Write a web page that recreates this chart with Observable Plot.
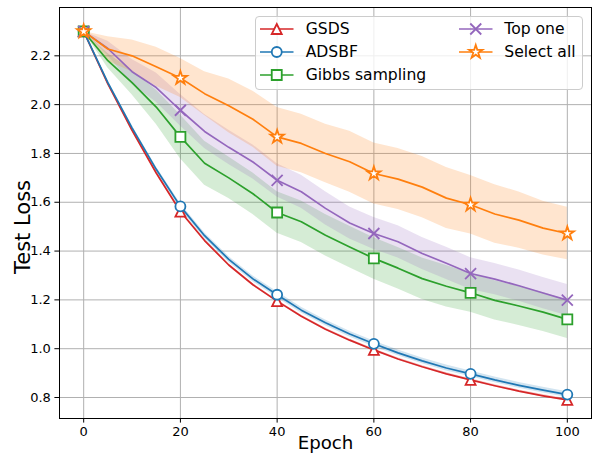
<!DOCTYPE html>
<html><head><meta charset="utf-8">
<script src="https://cdn.jsdelivr.net/npm/d3@7"></script>
<script src="https://cdn.jsdelivr.net/npm/@observablehq/plot@0.6"></script>
<style>
html,body{margin:0;padding:0;background:#fff;}
#wrap{position:relative;width:600px;height:456px;font-family:"DejaVu Sans",sans-serif;}
#legend{position:absolute;left:255px;top:16px;width:328px;height:74px;box-sizing:border-box;border:1px solid #cccccc;border-radius:4px;background:rgba(255,255,255,0.8);}
.lsym{position:absolute;}
.ltxt{position:absolute;font-size:15.6px;color:#000;white-space:nowrap;transform:translateY(-50%);line-height:1.2;}
</style></head><body><div id="wrap"></div>
<script>
// ---- data ----
const epochs = [0,5,10,15,20,25,30,35,40,45,50,55,60,65,70,75,80,85,90,95,100];
const names = ["GSDS","ADSBF","Gibbs sampling","Top one","Select all"];
const colors = ["#d62728","#1f77b4","#2ca02c","#9467bd","#ff7f0e"];
const gsds      = [2.30,2.085,1.895,1.72,1.562,1.443,1.343,1.262,1.195,1.133,1.08,1.035,0.995,0.958,0.926,0.897,0.872,0.848,0.826,0.807,0.79];
const adsbf     = [2.30,2.09,1.905,1.735,1.583,1.463,1.366,1.286,1.221,1.158,1.106,1.06,1.02,0.983,0.95,0.921,0.897,0.872,0.85,0.83,0.812];
const gibbs     = [2.30,2.18,2.09,1.99,1.868,1.76,1.70,1.635,1.558,1.52,1.465,1.417,1.37,1.33,1.287,1.256,1.229,1.198,1.175,1.15,1.12];
const topOne    = [2.30,2.23,2.135,2.07,1.977,1.89,1.825,1.765,1.69,1.643,1.575,1.515,1.472,1.438,1.39,1.35,1.308,1.285,1.258,1.228,1.199];
const selectAll = [2.30,2.228,2.20,2.155,2.109,2.045,1.995,1.94,1.868,1.841,1.80,1.766,1.718,1.695,1.662,1.617,1.59,1.552,1.527,1.494,1.472];
const gsdsStd      = [0,0.004,0.005,0.005,0.005,0.005,0.005,0.005,0.005,0.005,0.005,0.005,0.005,0.005,0.005,0.005,0.005,0.005,0.005,0.005,0.005];
const adsbfStd     = [0,0.008,0.01,0.011,0.012,0.012,0.012,0.012,0.012,0.012,0.012,0.012,0.012,0.012,0.012,0.012,0.012,0.012,0.012,0.012,0.012];
const gibbsStd     = [0,0.03,0.05,0.07,0.09,0.09,0.085,0.085,0.085,0.085,0.085,0.085,0.085,0.085,0.085,0.085,0.08,0.08,0.08,0.08,0.078];
const topOneStd    = [0,0.03,0.05,0.06,0.065,0.07,0.07,0.07,0.068,0.068,0.068,0.066,0.066,0.066,0.066,0.066,0.065,0.064,0.064,0.064,0.064];
const selectAllStd = [0,0.05,0.065,0.08,0.08,0.09,0.11,0.115,0.12,0.12,0.12,0.125,0.125,0.125,0.125,0.125,0.12,0.12,0.115,0.11,0.108];
const xTicks = [0,20,40,60,80,100];
const yTicks = [0.8,1.0,1.2,1.4,1.6,1.8,2.0,2.2];
const markerStep = 20;

// ---- symbols (matplotlib-like) ----
const rOf = s => Math.sqrt(s/Math.PI);
const mplTriangle = {draw(c,s){const r=rOf(s);c.moveTo(0,-r);c.lineTo(r,r);c.lineTo(-r,r);c.closePath();}};
const mplSquare = {draw(c,s){const r=rOf(s);c.moveTo(-r,-r);c.lineTo(r,-r);c.lineTo(r,r);c.lineTo(-r,r);c.closePath();}};
const mplX = {draw(c,s){const r=rOf(s);c.moveTo(-r,-r);c.lineTo(r,r);c.moveTo(-r,r);c.lineTo(r,-r);}};
const mplStar = {draw(c,s){const R=rOf(s),ri=R*0.381966;for(let k=0;k<10;k++){const a=-Math.PI/2+k*Math.PI/5,rr=k%2?ri:R;const x=rr*Math.cos(a),y=rr*Math.sin(a);k?c.lineTo(x,y):c.moveTo(x,y);}c.closePath();}};
const symbols = [mplTriangle, d3.symbolCircle, mplSquare, mplX, mplStar];
const symR = [5,5,5,5.5,7];
const symFill = ["white","white","white","none","white"];

const losses = [gsds, adsbf, gibbs, topOne, selectAll];
const stds = [gsdsStd, adsbfStd, gibbsStd, topOneStd, selectAllStd];
const rows = [];
names.forEach((n,i)=>epochs.forEach((e,j)=>rows.push({series:n, epoch:e, loss:losses[i][j], lo:losses[i][j]-stds[i][j], hi:losses[i][j]+stds[i][j]})));

const marks = [
  Plot.gridX(xTicks, {stroke:"#b0b0b0", strokeOpacity:1, strokeWidth:1}),
  Plot.gridY(yTicks, {stroke:"#b0b0b0", strokeOpacity:1, strokeWidth:1}),
  Plot.areaY(rows, {x:"epoch", y1:"lo", y2:"hi", z:"series", fill:"series", fillOpacity:0.2})
];
names.forEach((n,i)=>{
  const sr = rows.filter(d=>d.series===n);
  marks.push(Plot.line(sr, {x:"epoch", y:"loss", stroke:colors[i], strokeWidth:1.7}));
  marks.push(Plot.dot(sr.filter(d=>d.epoch % markerStep === 0), {x:"epoch", y:"loss", symbol:symbols[i], r:symR[i], stroke:colors[i], fill:symFill[i], strokeWidth:1.8}));
});
marks.push(
  Plot.frame({stroke:"black", strokeWidth:1}),
  Plot.axisX(xTicks, {tickSize:4.6, tickPadding:4, fontSize:13, label:null, tickFormat:d=>String(d)}),
  Plot.axisY(yTicks, {tickSize:4.6, tickPadding:4, fontSize:13, label:null, tickFormat:d3.format(".1f")}),
  Plot.text(["Epoch"], {frameAnchor:"bottom", dy:30, fontSize:18.2, text:d=>d}),
  Plot.text(["Test Loss"], {frameAnchor:"left", textAnchor:"middle", dx:-36, dy:14, rotate:-90, fontSize:21, text:d=>d})
);

const chart = Plot.plot({
  width:600, height:456,
  marginLeft:59, marginRight:9, marginTop:7, marginBottom:38,
  x:{domain:[-5,105]},
  y:{domain:[0.714,2.398]},
  color:{domain:names, range:colors},
  style:{fontFamily:"DejaVu Sans", fontSize:"13px", color:"black", background:"white", overflow:"visible"},
  marks
});
const wrap = document.getElementById("wrap");
wrap.appendChild(chart);

// ---- legend ----
const leg = document.createElement("div"); leg.id="legend"; wrap.appendChild(leg);
const rowsY = [29.3, 52.3, 75];
const cols = [{h:260, t:305.7},{h:459, t:504.3}];
names.forEach((n,i)=>{
  const col = i<3?0:1, row = i<3?i:i-3;
  const y = rowsY[row];
  const svgNS="http://www.w3.org/2000/svg";
  const svg=document.createElementNS(svgNS,"svg");
  svg.setAttribute("width",34); svg.setAttribute("height",20);
  svg.setAttribute("class","lsym");
  svg.style.left=cols[col].h+"px"; svg.style.top=(y-10)+"px";
  const ln=document.createElementNS(svgNS,"line");
  ln.setAttribute("x1",0);ln.setAttribute("x2",33.5);ln.setAttribute("y1",10);ln.setAttribute("y2",10);
  ln.setAttribute("stroke",colors[i]);ln.setAttribute("stroke-width",1.7);
  svg.appendChild(ln);
  const p=document.createElementNS(svgNS,"path");
  p.setAttribute("d", d3.symbol(symbols[i], Math.PI*symR[i]*symR[i])());
  p.setAttribute("transform","translate(16.75,10)");
  p.setAttribute("fill",symFill[i]);p.setAttribute("stroke",colors[i]);p.setAttribute("stroke-width",1.8);
  svg.appendChild(p);
  wrap.appendChild(svg);
  const t=document.createElement("div"); t.className="ltxt"; t.textContent=n;
  t.style.left=cols[col].t+"px"; t.style.top=y+"px";
  wrap.appendChild(t);
});
</script></body></html>
